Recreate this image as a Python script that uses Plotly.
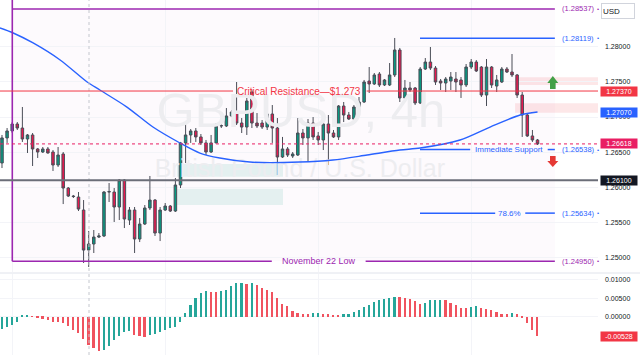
import plotly.graph_objects as go

# ---------------- data ----------------
open_ = [1.26347,1.26703,1.26802,1.26901,1.26844,1.26688,1.26745,1.26546,1.26503,1.26546,
         1.26503,1.26318,1.26475,1.25991,1.25877,1.25863,1.25678,1.25109,1.25195,1.25294,
         1.25309,1.25934,1.25934,1.25721,1.26105,1.25536,1.25678,1.25266,1.25479,1.25707,
         1.25820,1.25351,1.25678,1.25735,1.25664,1.26034,1.26632,1.26745,1.26802,1.26717,
         1.26632,1.26503,1.26632,1.26873,1.26873,1.27015,1.27072,1.26915,1.26858,1.27356,
         1.26915,1.26915,1.26858,1.27043,1.26844,1.26432,1.26546,1.26446,1.26460,1.26773,
         1.26703,1.26915,1.26731,1.26674,1.26901,1.26773,1.26717,1.27157,1.27029,1.26972,
         1.27143,1.27214,1.27512,1.27470,1.27612,1.27456,1.27456,1.27598,1.27953,1.27271,
         1.27413,1.27413,1.27200,1.27683,1.27782,1.27697,1.27512,1.27484,1.27512,1.27541,
         1.27527,1.27456,1.27711,1.27782,1.27711,1.27313,1.27711,1.27441,1.27498,1.27683,
         1.27640,1.27598,1.27313,1.27029,1.26731,1.26674]
high = [1.26745,1.26844,1.26929,1.26929,1.27143,1.26759,1.26773,1.26560,1.26574,1.26574,
        1.26531,1.26574,1.26503,1.26005,1.25892,1.25934,1.25820,1.25380,1.25394,1.25351,
        1.25948,1.26062,1.25991,1.26119,1.26119,1.25721,1.25721,1.25564,1.25749,1.26162,
        1.25834,1.25721,1.25778,1.25749,1.26133,1.26646,1.26929,1.26830,1.26844,1.26759,
        1.26674,1.26745,1.26915,1.26901,1.27128,1.27100,1.27498,1.26986,1.27271,1.27384,
        1.27057,1.26958,1.27072,1.27171,1.26986,1.26717,1.26574,1.26503,1.26986,1.26830,
        1.26972,1.27000,1.26788,1.26958,1.27029,1.26816,1.27171,1.27214,1.27072,1.27171,
        1.27285,1.27527,1.27711,1.27626,1.27640,1.27541,1.27768,1.28124,1.27982,1.27527,
        1.27498,1.27427,1.27711,1.27839,1.27996,1.27725,1.27541,1.27569,1.27640,1.27640,
        1.27569,1.27754,1.27825,1.27810,1.27725,1.27825,1.27725,1.27598,1.27711,1.27711,
        1.27896,1.27612,1.27356,1.27043,1.26816,1.26688]
low = [1.26275,1.26632,1.26773,1.26816,1.26646,1.26489,1.26304,1.26418,1.26489,1.26480,
       1.26233,1.26290,1.25763,1.25863,1.25849,1.25664,1.24925,1.24868,1.25067,1.25280,
       1.25294,1.25792,1.25508,1.25536,1.25422,1.25465,1.25067,1.25223,1.25465,1.25678,
       1.25309,1.25237,1.25664,1.25650,1.25650,1.25991,1.26347,1.26632,1.26646,1.26603,
       1.26460,1.26489,1.26632,1.26844,1.26858,1.27000,1.26887,1.26773,1.26745,1.26844,
       1.26844,1.26830,1.26816,1.26632,1.26176,1.26418,1.26432,1.26418,1.26446,1.26603,
       1.26361,1.26674,1.26603,1.26531,1.26318,1.26703,1.26674,1.26929,1.26958,1.26958,
       1.27128,1.27200,1.27342,1.27456,1.27427,1.27441,1.27441,1.27569,1.27214,1.27214,
       1.27356,1.27171,1.27185,1.27669,1.27669,1.27456,1.27384,1.27356,1.27384,1.27356,
       1.27271,1.27427,1.27683,1.27640,1.27285,1.27157,1.27413,1.27356,1.27484,1.27626,
       1.27569,1.27271,1.26717,1.26717,1.26646,1.26603]
close = [1.26703,1.26802,1.26901,1.26844,1.26688,1.26745,1.26546,1.26503,1.26546,1.26489,
         1.26318,1.26460,1.25991,1.25877,1.25870,1.25692,1.25109,1.25195,1.25294,1.25309,
         1.25934,1.25940,1.25721,1.26105,1.25550,1.25678,1.25266,1.25479,1.25707,1.25820,
         1.25351,1.25678,1.25735,1.25664,1.26034,1.26632,1.26745,1.26802,1.26717,1.26632,
         1.26503,1.26632,1.26873,1.26878,1.27015,1.27072,1.26915,1.26858,1.27228,1.26915,
         1.26873,1.26858,1.27043,1.26844,1.26432,1.26546,1.26460,1.26475,1.26773,1.26703,
         1.26915,1.26717,1.26674,1.26901,1.26773,1.26717,1.27157,1.27029,1.26972,1.27143,
         1.27214,1.27498,1.27470,1.27598,1.27456,1.27527,1.27598,1.27953,1.27271,1.27413,
         1.27384,1.27200,1.27683,1.27782,1.27697,1.27498,1.27484,1.27541,1.27569,1.27498,
         1.27456,1.27711,1.27782,1.27655,1.27313,1.27711,1.27456,1.27527,1.27683,1.27640,
         1.27598,1.27313,1.27029,1.26731,1.26674,1.26618]
bar_index = list(range(len(close)))

ao = [-0.00334,-0.00282,-0.00229,-0.00132,0.00026,0.00044,0.00018,-0.00018,-0.00053,-0.00088,
      -0.00132,-0.00134,-0.00158,-0.00246,-0.00352,-0.00440,-0.00598,-0.00774,-0.00854,-0.00915,
      -0.00898,-0.00792,-0.00642,-0.00528,-0.00422,-0.00396,-0.00493,-0.00528,-0.00554,-0.00484,
      -0.00466,-0.00422,-0.00352,-0.00308,-0.00290,-0.00150,0.00106,0.00308,0.00502,0.00642,
      0.00686,0.00678,0.00669,0.00704,0.00722,0.00818,0.00898,0.00906,0.00889,0.00915,
      0.00862,0.00766,0.00722,0.00678,0.00510,0.00352,0.00282,0.00158,0.00088,0.00079,
      0.00062,0.00088,0.00097,0.00079,0.00062,0.00044,0.00026,0.00062,0.00079,0.00132,
      0.00194,0.00264,0.00326,0.00396,0.00458,0.00475,0.00510,0.00546,0.00537,0.00510,
      0.00484,0.00414,0.00352,0.00361,0.00440,0.00449,0.00458,0.00440,0.00378,0.00308,
      0.00246,0.00238,0.00264,0.00282,0.00246,0.00220,0.00176,0.00132,0.00070,0.00062,
      0.00106,0.00062,-0.00044,-0.00176,-0.00352,-0.00528]

ma_index = [-0.4, 2.2, 6.1, 11.4, 16.7, 19.2, 24.5, 29.6, 34.9, 38.8, 42.7, 48.6,
            58.4, 64.9, 71.6, 78.0, 82.0, 89.8, 95.7, 101.6, 105.0]
ma_value = [1.28266, 1.28195, 1.28053, 1.27811, 1.27498, 1.27384, 1.27142, 1.26858,
            1.26631, 1.26488, 1.26417, 1.26360, 1.26360, 1.26389, 1.26460, 1.26531,
            1.26559, 1.26673, 1.26858, 1.27029, 1.27071]

price_ticks = [1.25, 1.255, 1.26, 1.265, 1.27, 1.275, 1.28]
osc_ticks = [0.0, 0.005, 0.01]

resistance = 1.27370
ma_last = 1.27070
last_price = 1.26618
support_black = 1.26100
box_top = 1.28537
box_low = 1.24950
fib_high = 1.28119
immediate_support = 1.26538
fib_786 = 1.25634
osc_last = -0.00528

# ---------------- styling ----------------
FONT = "Liberation Sans, Arial, sans-serif"
GREEN = "#089981"
RED = "#f23645"
BLUE = "#2962ff"
PURPLE = "#9c27b0"
PINK = "#e91e63"

X0, X1 = -0.39, 116.86
PRICE_RANGE = [1.24797, 1.28664]
OSC_RANGE = [-0.01035, 0.01154]

fig = go.Figure()

# watermark (below candles)
fig.add_trace(go.Scatter(x=[58.6], y=[1.27036], mode="text", text=["GBPUSD, 4h"],
                         textfont=dict(size=49, color="#ededf0", family=FONT),
                         textposition="middle center", hoverinfo="skip", showlegend=False))
fig.add_trace(go.Scatter(x=[58.4], y=[1.26233], mode="text", text=["British Pound / U.S. Dollar"],
                         textfont=dict(size=25, color="#ededf0", family=FONT),
                         textposition="middle center", hoverinfo="skip", showlegend=False))

fig.add_trace(go.Candlestick(
    x=bar_index, open=open_, high=high, low=low, close=close,
    increasing=dict(fillcolor=GREEN, line=dict(color="#4a4d57", width=1)),
    decreasing=dict(fillcolor="#e8194f", line=dict(color="#4a4d57", width=1)),
    whiskerwidth=0, showlegend=False, hoverinfo="skip"))

fig.add_trace(go.Scatter(x=ma_index, y=ma_value, mode="lines",
                         line=dict(color=BLUE, width=1.4, shape="spline", smoothing=0.8),
                         hoverinfo="skip", showlegend=False))

ao_colors = []
for k, v in enumerate(ao):
    if k == 0 or v > ao[k - 1]:
        ao_colors.append("#26a69a")
    else:
        ao_colors.append("#f0535f")
fig.add_trace(go.Bar(x=bar_index, y=ao, marker=dict(color=ao_colors, line=dict(width=0)),
                     width=0.34, xaxis="x2", yaxis="y2", showlegend=False, hoverinfo="skip"))

shapes = []
def hline(y, xa, xb, color, width=1, dash="solid", xref="x"):
    shapes.append(dict(type="line", xref=xref, yref="y", x0=xa, x1=xb, y0=y, y1=y,
                       line=dict(color=color, width=width, dash=dash)))

# faint box fill
shapes.append(dict(type="rect", xref="x", yref="y", x0=2.02, x1=108.4, y0=box_low, y1=box_top,
                   fillcolor="rgba(156,39,176,0.025)", line=dict(width=0), layer="below"))
# teal zones
shapes.append(dict(type="rect", xref="x", yref="y", x0=34.3, x1=55.1, y0=1.26152, y1=1.26332,
                   fillcolor="rgba(8,153,129,0.10)", line=dict(width=0), layer="below"))
shapes.append(dict(type="rect", xref="x", yref="y", x0=34.3, x1=55.1, y0=1.25749, y1=1.25980,
                   fillcolor="rgba(8,153,129,0.10)", line=dict(width=0), layer="below"))
# pink zones
shapes.append(dict(type="rect", xref="x", yref="y", x0=100.6, x1=X1, y0=1.27455, y1=1.27565,
                   fillcolor="rgba(242,54,69,0.12)", line=dict(width=0), layer="below"))
shapes.append(dict(type="rect", xref="x", yref="y", x0=100.6, x1=X1, y0=1.27060, y1=1.27195,
                   fillcolor="rgba(242,54,69,0.12)", line=dict(width=0), layer="below"))

# dotted vertical marker
shapes.append(dict(type="line", xref="x", yref="paper", x0=17.06, x1=17.06, y0=0, y1=1,
                   line=dict(color="#c4c7ce", width=1, dash="dot")))

# purple box
hline(box_top, 2.02, 108.4, PURPLE, 1.6)
hline(box_low, 2.02, 52.9, PURPLE, 1.6)
hline(box_low, 71.3, 108.4, PURPLE, 1.6)
shapes.append(dict(type="line", xref="x", yref="y", x0=2.02, x1=2.02, y0=box_low, y1=PRICE_RANGE[1],
                   line=dict(color=PURPLE, width=1.6)))

# red resistance line (broken by label)
hline(resistance, X0, 45.3, RED, 1)
hline(resistance, 71.5, X1, RED, 1)
# black support line
hline(support_black, X0, X1, "#6b6e78", 2)
# last price dotted
hline(last_price, X0, X1, PINK, 1, "dot")
# blue fib lines
hline(fib_high, 81.96, 108.4, BLUE, 1.5)
hline(immediate_support, 81.96, 91.8, BLUE, 1.5)
hline(immediate_support, 107.0, 108.4, BLUE, 1.5)
hline(fib_786, 81.96, 96.7, BLUE, 1.5)
hline(fib_786, 102.6, 108.4, BLUE, 1.5)

# arrows
shapes.append(dict(type="path", xref="x", yref="y", fillcolor="#43a047", line=dict(width=0),
                   path="M 106.92 1.27484 L 108.0 1.27584 L 109.08 1.27484 L 108.55 1.27484 "
                        "L 108.55 1.27399 L 107.45 1.27399 L 107.45 1.27484 Z"))
shapes.append(dict(type="path", xref="x", yref="y", fillcolor="#e53935", line=dict(width=0),
                   path="M 107.45 1.26446 L 108.55 1.26446 L 108.55 1.26375 L 109.08 1.26375 "
                        "L 108.0 1.26290 L 106.92 1.26375 L 107.45 1.26375 Z"))

# pane separator
sep_y = 1 - 273 / 355
shapes.append(dict(type="line", xref="paper", yref="paper", x0=0, x1=640 / 598, y0=sep_y, y1=sep_y,
                   line=dict(color="#e0e3eb", width=1)))

annotations = []
def text(x, y, s, color, size, xanchor="center", yref="y"):
    annotations.append(dict(x=x, y=y, xref="x", yref=yref, text=s, showarrow=False,
                            font=dict(family=FONT, size=size, color=color), xanchor=xanchor,
                            yanchor="middle"))

text(58.3, resistance, "Critical Resistance—$1.273", RED, 10)
text(99.4, immediate_support, "Immediate Support", BLUE, 8)
text(99.6, fib_786, "78.6%", BLUE, 8)
text(62.1, box_low, "November 22 Low", PURPLE, 9)
for v, c in [(box_top, PURPLE), (fib_high, BLUE), (immediate_support, BLUE), (fib_786, BLUE), (box_low, PURPLE)]:
    text(109.5, v, "(%.5f)" % v, c, 7.5, xanchor="left")
    annotations.append(dict(x=1, y=v, xref="paper", yref="y", text="•", showarrow=False,
                            font=dict(family=FONT, size=6, color=c), xanchor="center", yanchor="middle"))

def tag(v, bg, yref="y", fmt="%.5f"):
    annotations.append(dict(x=1, y=v, xref="paper", yref=yref, text=fmt % v, showarrow=False,
                            font=dict(family=FONT, size=7, color="white"), bgcolor=bg,
                            xanchor="left", yanchor="middle", xshift=2, width=36, height=9,
                            borderpad=0, align="center"))

tag(resistance, RED)
tag(ma_last, BLUE)
tag(last_price, PINK)
tag(support_black, "#131722")
tag(osc_last, RED, yref="y2")

annotations.append(dict(x=1, y=1 - 11.5 / 355, xref="paper", yref="paper", text="USD", showarrow=False,
                        font=dict(family=FONT, size=8, color="#131722"), bgcolor="white",
                        bordercolor="#d1d4dc", borderwidth=1, xanchor="left", yanchor="middle",
                        xshift=3, width=30, height=12, align="left"))

fig.update_layout(
    width=640, height=355, margin=dict(l=0, r=42, t=0, b=0),
    paper_bgcolor="white", plot_bgcolor="white",
    showlegend=False, bargap=0,
    shapes=shapes, annotations=annotations,
    xaxis=dict(domain=[0, 1], range=[X0, X1], anchor="y", showticklabels=False,
               tickvals=[2, 32, 62, 92], showgrid=True, gridcolor="#f3f4f8", zeroline=False,
               rangeslider=dict(visible=False), fixedrange=True, showline=False),
    xaxis2=dict(domain=[0, 1], range=[X0, X1], anchor="y2", showticklabels=False,
                tickvals=[2, 32, 62, 92], showgrid=True, gridcolor="#f3f4f8", zeroline=False,
                fixedrange=True),
    yaxis=dict(domain=[1 - 272 / 355, 1], range=PRICE_RANGE, side="right", anchor="x",
               tickvals=price_ticks, ticktext=["%.5f" % t for t in price_ticks],
               tickfont=dict(family=FONT, size=7, color="#131722"), ticks="", ticklabelstandoff=6,
               showgrid=True, gridcolor="#f3f4f8", zeroline=False, fixedrange=True),
    yaxis2=dict(domain=[0, 1 - 274 / 355], range=OSC_RANGE, side="right", anchor="x2",
                tickvals=osc_ticks, ticktext=["%.5f" % t for t in osc_ticks],
                tickfont=dict(family=FONT, size=7, color="#131722"), ticks="", ticklabelstandoff=6,
                showgrid=True, gridcolor="#f3f4f8", zeroline=False, fixedrange=True),
)

fig.write_html("out.html")
